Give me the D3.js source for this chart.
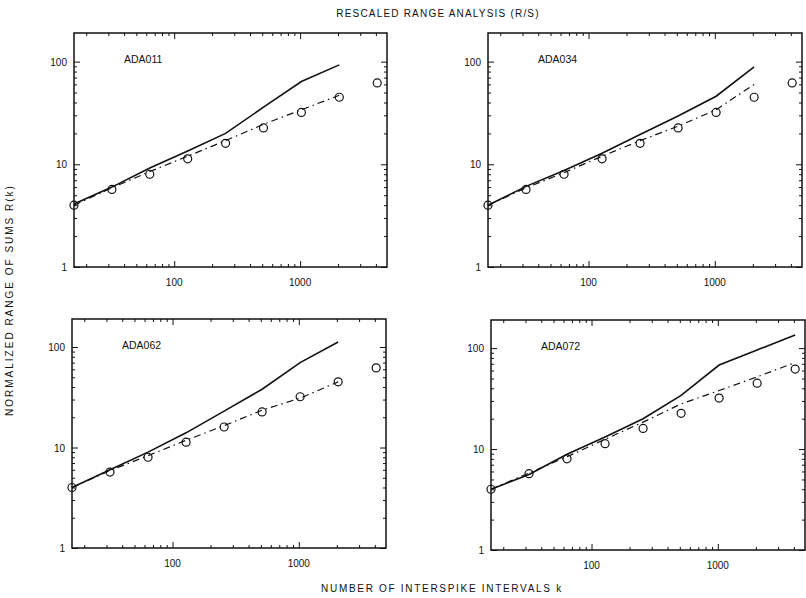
<!DOCTYPE html>
<html>
<head>
<meta charset="utf-8">
<script src="https://cdn.jsdelivr.net/npm/d3@7"></script>
<style>
    body { margin: 0; background: #fff; }
    svg text { font-family: 'Liberation Sans', Arial, sans-serif; fill: #111; }
</style>
</head>
<body>
<div class="chart"></div>
<script>
const kValues = [16, 32, 64, 128, 256, 512, 1024, 2048, 4096];
const panelNames = ['ADA011', 'ADA034', 'ADA062', 'ADA072'];
const circleValues = [4, 5.7, 8, 11.3, 16, 22.6, 32, 45, 62];
const solidADA011 = [4.1, 6, 9.2, 13.5, 20, 36, 64, 93];
const solidADA034 = [4, 6.1, 8.7, 12.8, 19.5, 29.5, 46, 89];
const solidADA062 = [4, 6, 9, 14, 23, 38, 70, 112];
const solidADA072 = [4, 5.6, 8.9, 13.2, 20, 34, 68, 96, 135];
const dashedADA011 = [4, 5.9, 8.5, 12, 17, 24.5, 34, 47];
const dashedADA034 = [4, 5.9, 8.3, 12, 17, 23.5, 34, 60];
const dashedADA062 = [4, 5.9, 8.3, 11.8, 16.5, 23.5, 31, 45];
const dashedADA072 = [4, 5.8, 8.4, 12.5, 18.5, 28, 38, 52, 72];
const xTickLabels = [100, 1000];
const yTickLabels = [1, 10, 100];

const solidSeries = [solidADA011, solidADA034, solidADA062, solidADA072];
const dashedSeries = [dashedADA011, dashedADA034, dashedADA062, dashedADA072];

// panel frames in page pixels
const frames = [
    { left: 74, top: 33, width: 313, height: 234 },
    { left: 488, top: 33, width: 314, height: 234 },
    { left: 72, top: 319, width: 314, height: 229 },
    { left: 491, top: 320, width: 314, height: 230 }
];

const chartWidth = 806, chartHeight = 598;
const canvas = d3.select('div.chart').append('svg').attr('width', chartWidth).attr('height', chartHeight);

canvas.append('text')
    .attr('x', 438).attr('y', 17)
    .attr('text-anchor', 'middle')
    .attr('font-size', 10)
    .attr('letter-spacing', 1.2)
    .text('RESCALED RANGE ANALYSIS (R/S)');

canvas.append('text')
    .attr('transform', 'translate(13, 300) rotate(-90)')
    .attr('text-anchor', 'middle')
    .attr('font-size', 10)
    .attr('letter-spacing', 2)
    .text('NORMALIZED RANGE OF SUMS R(k)');

canvas.append('text')
    .attr('x', 442).attr('y', 592)
    .attr('text-anchor', 'middle')
    .attr('font-size', 10)
    .attr('letter-spacing', 1.7)
    .text('NUMBER OF INTERSPIKE INTERVALS k');

const isDecade = v => Math.abs(Math.log10(v) - Math.round(Math.log10(v))) < 1e-9;

const drawPanel = (index) => {
    const f = frames[index];
    const x = d3.scaleLog().domain([16, 4900]).range([f.left, f.left + f.width]);
    const y = d3.scaleLog().domain([1, 190]).range([f.top + f.height, f.top]);
    const g = canvas.append('g').classed('panel', true);

    const xMinor = x.ticks().filter(v => !isDecade(v));
    const xMajor = x.ticks().filter(isDecade);
    const yMinor = y.ticks().filter(v => !isDecade(v));
    const yMajor = y.ticks().filter(isDecade);

    const addAxis = (axis, translate) => {
        const a = g.append('g').attr('transform', translate).call(axis);
        a.select('.domain').remove();
        a.selectAll('line').attr('stroke', '#111').attr('stroke-width', 1);
        return a;
    };

    // inward minor and major ticks on all four sides
    addAxis(d3.axisBottom(x).tickValues(xMinor).tickSize(-3).tickFormat(''), `translate(0, ${f.top + f.height})`);
    addAxis(d3.axisBottom(x).tickValues(xMajor).tickSize(-6).tickFormat(''), `translate(0, ${f.top + f.height})`);
    addAxis(d3.axisTop(x).tickValues(xMinor).tickSize(-3).tickFormat(''), `translate(0, ${f.top})`);
    addAxis(d3.axisTop(x).tickValues(xMajor).tickSize(-6).tickFormat(''), `translate(0, ${f.top})`);
    addAxis(d3.axisLeft(y).tickValues(yMinor).tickSize(-3).tickFormat(''), `translate(${f.left}, 0)`);
    addAxis(d3.axisLeft(y).tickValues(yMajor).tickSize(-6).tickFormat(''), `translate(${f.left}, 0)`);
    addAxis(d3.axisRight(y).tickValues(yMinor).tickSize(-3).tickFormat(''), `translate(${f.left + f.width}, 0)`);
    addAxis(d3.axisRight(y).tickValues(yMajor).tickSize(-6).tickFormat(''), `translate(${f.left + f.width}, 0)`);

    g.selectAll('text.x-label')
        .data(xTickLabels)
        .enter()
        .append('text')
        .classed('x-label', true)
        .attr('x', d => x(d))
        .attr('y', f.top + f.height + 19)
        .attr('text-anchor', 'middle')
        .attr('font-size', 10)
        .text(d => d);

    g.selectAll('text.y-label')
        .data(yTickLabels)
        .enter()
        .append('text')
        .classed('y-label', true)
        .attr('x', f.left - 7)
        .attr('y', d => y(d) + 4)
        .attr('text-anchor', 'end')
        .attr('font-size', 10)
        .text(d => d);

    g.append('rect')
        .attr('x', f.left).attr('y', f.top)
        .attr('width', f.width).attr('height', f.height)
        .attr('fill', 'none')
        .attr('stroke', '#111')
        .attr('stroke-width', 1.5);

    g.append('text')
        .attr('x', f.left + 50)
        .attr('y', f.top + 30)
        .attr('font-size', 10.5)
        .text(panelNames[index]);

    const line = d3.line().x((d, i) => x(kValues[i])).y(d => y(d));

    g.append('path')
        .datum(dashedSeries[index])
        .attr('d', line)
        .attr('fill', 'none')
        .attr('stroke', '#111')
        .attr('stroke-width', 1.2)
        .attr('stroke-dasharray', '7,4,1.5,4');

    g.append('path')
        .datum(solidSeries[index])
        .attr('d', line)
        .attr('fill', 'none')
        .attr('stroke', '#111')
        .attr('stroke-width', 1.6);

    g.selectAll('circle.obs')
        .data(circleValues)
        .enter()
        .append('circle')
        .classed('obs', true)
        .attr('cx', (d, i) => x(kValues[i]))
        .attr('cy', d => y(d))
        .attr('r', 4)
        .attr('fill', 'none')
        .attr('stroke', '#111')
        .attr('stroke-width', 1.2);
};

panelNames.forEach((name, i) => drawPanel(i));
</script>
</body>
</html>
